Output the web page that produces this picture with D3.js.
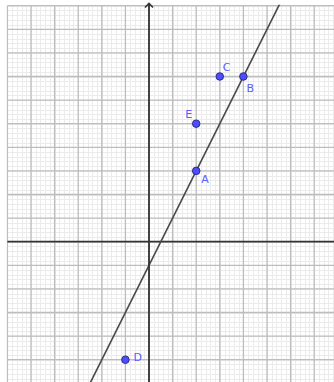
<!DOCTYPE html>
<html>
<head>
<meta charset="utf-8">
<script src="https://cdn.jsdelivr.net/npm/d3@7"></script>
<style>
  body { margin: 0; background: #fff; }
  svg { display: block; }
</style>
</head>
<body>
<svg id="chart" width="334" height="382"></svg>
<script>
// Points on the grid
const pointNames = ["A", "B", "C", "D", "E"];
const pointX = [2, 4, 3, -1, 2];
const pointY = [3, 7, 7, -5, 5];

// Line through A and B, drawn past the plot edges (clipped)
const lineX = [-3.5, 6];
const lineY = [-8, 11];

// Label offsets (pixels) relative to each point
const labelDx = [5, 3, 3, 8, -11];
const labelDy = [12, 15, -6, 1, -6];

const width = 334;
const height = 382;
const unit = 23.6;
const originX = 149;
const originY = 241.7;

const svg = d3.select("#chart");

const xScale = d3.scaleLinear()
  .domain([-6, 8])
  .range([originX - 6 * unit, originX + 8 * unit]);

const yScale = d3.scaleLinear()
  .domain([-6, 10])
  .range([originY + 6 * unit, originY - 10 * unit]);

const plotLeft = xScale(-6);
const plotTop = yScale(10);

svg.append("clipPath").attr("id", "plot")
  .append("rect")
  .attr("x", plotLeft - 1).attr("y", plotTop - 1)
  .attr("width", width - plotLeft + 1).attr("height", height - plotTop + 1);

const g = svg.append("g").attr("clip-path", "url(#plot)");

// Minor grid
const minorX = d3.range(-6, 8.01, 0.2);
const minorY = d3.range(-6, 10.01, 0.2);

g.append("g").selectAll("line").data(minorX).enter().append("line")
  .attr("x1", d => Math.round(xScale(d)) + 0.5).attr("x2", d => Math.round(xScale(d)) + 0.5)
  .attr("y1", plotTop).attr("y2", height)
  .attr("stroke", "#ebebeb").attr("stroke-width", 1);

g.append("g").selectAll("line").data(minorY).enter().append("line")
  .attr("y1", d => Math.round(yScale(d)) + 0.5).attr("y2", d => Math.round(yScale(d)) + 0.5)
  .attr("x1", plotLeft).attr("x2", width)
  .attr("stroke", "#ebebeb").attr("stroke-width", 1);

// Major grid
const majorX = d3.range(-6, 9, 1);
const majorY = d3.range(-6, 11, 1);

g.append("g").selectAll("line").data(majorX).enter().append("line")
  .attr("x1", d => xScale(d)).attr("x2", d => xScale(d))
  .attr("y1", plotTop).attr("y2", height)
  .attr("stroke", "#bdbdbd").attr("stroke-width", 1.3);

g.append("g").selectAll("line").data(majorY).enter().append("line")
  .attr("y1", d => yScale(d)).attr("y2", d => yScale(d))
  .attr("x1", plotLeft).attr("x2", width)
  .attr("stroke", "#bdbdbd").attr("stroke-width", 1.3);

// Axes
g.append("line")
  .attr("x1", plotLeft).attr("x2", width)
  .attr("y1", yScale(0)).attr("y2", yScale(0))
  .attr("stroke", "#333").attr("stroke-width", 1.8);

svg.append("line")
  .attr("x1", xScale(0)).attr("x2", xScale(0))
  .attr("y1", 3).attr("y2", height)
  .attr("stroke", "#333").attr("stroke-width", 1.8);

// arrow on y axis
svg.append("path")
  .attr("d", `M${xScale(0) - 4},${7.5} L${xScale(0)},${3.5} L${xScale(0) + 4},${7.5}`)
  .attr("fill", "none").attr("stroke", "#333").attr("stroke-width", 1.6);

// The line
g.append("line")
  .attr("x1", xScale(lineX[0])).attr("y1", yScale(lineY[0]))
  .attr("x2", xScale(lineX[1])).attr("y2", yScale(lineY[1]))
  .attr("stroke", "#4a4a4a").attr("stroke-width", 1.6);

// Points
const pts = pointNames.map((n, i) => ({ name: n, x: pointX[i], y: pointY[i], dx: labelDx[i], dy: labelDy[i] }));

g.append("g").selectAll("circle").data(pts).enter().append("circle")
  .attr("cx", d => xScale(d.x)).attr("cy", d => yScale(d.y))
  .attr("r", 3.8)
  .attr("fill", "#4d4dff").attr("stroke", "#1a1a66").attr("stroke-width", 0.8);

g.append("g").selectAll("text").data(pts).enter().append("text")
  .attr("x", d => xScale(d.x) + d.dx).attr("y", d => yScale(d.y) + d.dy)
  .attr("font-family", "DejaVu Sans, sans-serif").attr("font-size", 11)
  .attr("fill", "#5c5cff")
  .text(d => d.name);
</script>
</body>
</html>
